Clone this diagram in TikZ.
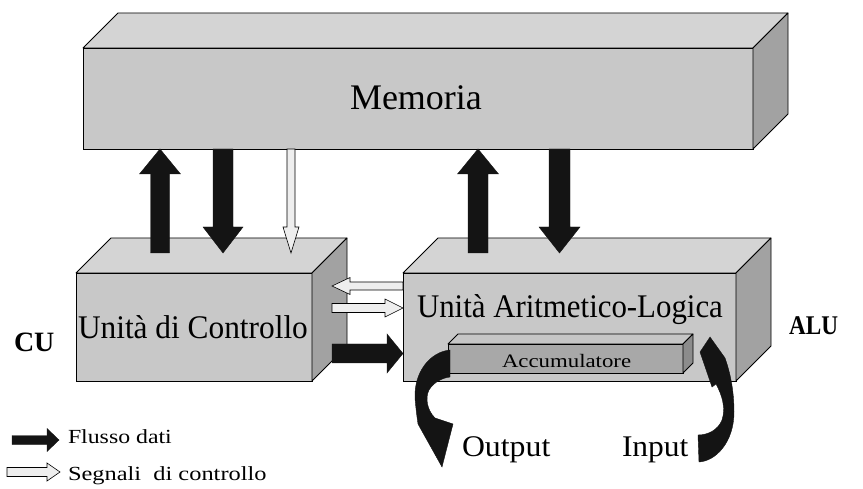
\documentclass[tikz,border=0pt]{standalone}
\usepackage{fontspec}
\setmainfont{Liberation Serif}
\usepackage{graphicx}
\usetikzlibrary{calc}

\definecolor{facefront}{HTML}{C8C8C8}
\definecolor{facetop}{HTML}{D4D4D4}
\definecolor{faceside}{HTML}{A2A2A2}
\definecolor{accfront}{HTML}{A8A8A8}
\definecolor{acctop}{HTML}{C6C6C6}
\definecolor{accside}{HTML}{8C8C8C}
\definecolor{flow}{HTML}{141414}
\definecolor{signal}{HTML}{EEEEEE}

\tikzset{
  front/.style={rectangle, draw, line width=0.8pt, fill=facefront, inner sep=0pt, outer sep=0pt},
  accfrontface/.style={front, fill=accfront},
  topface/.style={draw, line width=0.8pt, fill=facetop, line join=round},
  sideface/.style={draw, line width=0.8pt, fill=faceside, line join=round},
  acctopface/.style={topface, fill=acctop},
  accsideface/.style={sideface, fill=accside},
  dataflow/.style={fill=flow, draw=flow, line width=0.4pt, line join=miter},
  ctrlflow/.style={fill=signal, draw=black, line width=0.6pt, line join=miter},
  lbl/.style={inner sep=0pt, outer sep=0pt, anchor=base west},
}

% text at a given size with a horizontal scale factor
\newcommand{\sz}[3]{\scalebox{#2}[1]{\fontsize{#1}{#1}\selectfont #3}}

% top and side faces of a box whose front face is node #1
\newcommand{\depthfaces}[4]{%
  \path[#3] (#1.north west) -- ++(#2,-#2) -- ([shift={(#2,-#2)}]#1.north east) -- (#1.north east) -- cycle;
  \path[#4] (#1.north east) -- ([shift={(#2,-#2)}]#1.north east) -- ([shift={(#2,-#2)}]#1.south east) -- (#1.south east) -- cycle;}

% block arrows: style, tail, tip, shaft half-width, head half-width, head length
\newcommand{\varrow}[6]{%
  \path[#1] let \p1=(#2), \p2=(#3), \n1={sign(\y2-\y1)} in
    ({\x1-#4},\y1) -- ({\x1-#4},{\y2-(\n1)*#6}) -- ({\x1-#5},{\y2-(\n1)*#6}) -- (\x1,\y2)
    -- ({\x1+#5},{\y2-(\n1)*#6}) -- ({\x1+#4},{\y2-(\n1)*#6}) -- ({\x1+#4},\y1) -- cycle;}
\newcommand{\harrow}[6]{%
  \path[#1] let \p1=(#2), \p2=(#3), \n1={sign(\x2-\x1)} in
    (\x1,{\y1-#4}) -- ({\x2-(\n1)*#6},{\y1-#4}) -- ({\x2-(\n1)*#6},{\y1-#5}) -- (\x2,\y1)
    -- ({\x2-(\n1)*#6},{\y1+#5}) -- ({\x2-(\n1)*#6},{\y1+#4}) -- (\x1,{\y1+#4}) -- cycle;}

\begin{document}
\begin{tikzpicture}[x=1pt,y=-1pt]
\useasboundingbox (0,0) rectangle (863,489);

% --- boxes ---
\node[front, minimum width=670, minimum height=101] (mem) at (418,98.5) {};
\depthfaces{mem}{35}{topface}{sideface}
\node[front, minimum width=236, minimum height=108] (cu) at (194,327) {};
\depthfaces{cu}{35}{topface}{sideface}
\node[front, minimum width=333, minimum height=108] (alu) at (569.5,327) {};
\depthfaces{alu}{35}{topface}{sideface}
\node[accfrontface, minimum width=235, minimum height=29] (acc) at (565.5,358.5) {};
\depthfaces{acc}{10}{acctopface}{accsideface}

% --- texts ---
\node[lbl] (memtxt) at (350,110) {\sz{36}{1.0}{Memoria}};
\node[lbl] (cutxt) at (78,338) {\sz{33}{0.95}{Unità di Controllo}};
\node[lbl] (alutxt) at (417,318) {\sz{33}{0.935}{Unità Aritmetico-Logica}};
\node[lbl] (acctxt) at (502,367) {\sz{19}{1.2}{Accumulatore}};
\node[lbl] (culbl) at (14,352) {\sz{28}{1.0}{\bfseries CU}};
\node[lbl] (alulbl) at (789,335) {\sz{27}{0.86}{\bfseries ALU}};
\node[lbl] (outtxt) at (462,456) {\sz{30}{1.06}{Output}};
\node[lbl] (intxt) at (622,456) {\sz{30}{1.05}{Input}};
\node[lbl] (leg1) at (68,443) {\sz{20}{1.19}{Flusso dati}};
\node[lbl] (leg2) at (68,480) {\sz{20}{1.22}{Segnali\ \ di controllo}};

% --- arrow end points ---
\coordinate (cuUp) at (160,253);   \coordinate (memUp) at (160,149);
\coordinate (memDn) at (223,149);  \coordinate (cuDn) at (223,253);
\coordinate (memCt) at (291,149);  \coordinate (cuCt) at (291,253);
\coordinate (aluUp) at (478,253);  \coordinate (memUp2) at (478,149);
\coordinate (memDn2) at (559.5,149); \coordinate (aluDn) at (559.5,253);
\coordinate (aluL) at (403,286);   \coordinate (cuR) at (332,286);
\coordinate (cuR2) at (332,308);   \coordinate (aluL2) at (403,308);
\coordinate (cuR3) at (332,353.5); \coordinate (aluL3) at (403,353.5);
\coordinate (lg1a) at (12,440);    \coordinate (lg1b) at (59,440);
\coordinate (lg2a) at (7,472);     \coordinate (lg2b) at (60,472);

% --- memory <-> units ---
\varrow{dataflow}{cuUp}{memUp}{9.5}{20.5}{25}
\varrow{dataflow}{memDn}{cuDn}{10}{20}{26}
\varrow{ctrlflow}{memCt}{cuCt}{4}{8}{26}
\varrow{dataflow}{aluUp}{memUp2}{10}{20.5}{25}
\varrow{dataflow}{memDn2}{aluDn}{10.5}{20.5}{26}

% --- CU <-> ALU ---
\harrow{ctrlflow}{aluL}{cuR}{4}{8.5}{18}
\harrow{ctrlflow}{cuR2}{aluL2}{4.5}{9}{18}
\harrow{dataflow}{cuR3}{aluL3}{9.5}{19.5}{16}

% --- accumulator output (curving down-left) ---
\path[dataflow] (450,350) .. controls (430,352) and (414,372) .. (415,398)
  .. controls (416,410) and (417,417) .. (418,424) -- (442,467) -- (453,424) -- (435,418)
  .. controls (427,410) and (425,398) .. (429,390)
  .. controls (434,382) and (442,378) .. (450,377) -- cycle;
% --- accumulator input (curving up from below) ---
\path[dataflow] (698,435) -- (699,462) .. controls (716,461) and (734,442) .. (734,412)
  .. controls (734,390) and (730,372) .. (725,358) -- (710,337) -- (700,352) -- (712,387)
  -- (716,384) .. controls (722,395) and (726,408) .. (722,420)
  .. controls (718,430) and (708,435) .. (698,435) -- cycle;

% --- legend ---
\harrow{dataflow}{lg1a}{lg1b}{4.5}{11.5}{12}
\harrow{ctrlflow}{lg2a}{lg2b}{4.5}{9}{13}
\end{tikzpicture}
\end{document}
